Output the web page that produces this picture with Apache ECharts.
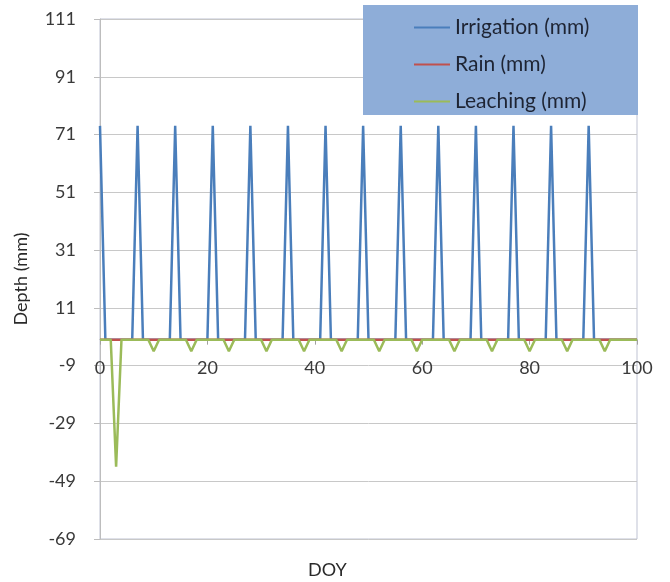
<!DOCTYPE html>
<html>
<head>
<meta charset="utf-8">
<script src="https://cdn.jsdelivr.net/npm/echarts@6/dist/echarts.min.js"></script>
<style>
html,body{margin:0;padding:0;background:#fff;}
#chart{width:670px;height:582px;}
</style>
</head>
<body>
<div id="chart"></div>
<script>
// Daily values, DOY 0..100 (one row = one week)
var irrigation = [
  74,0,0,0,0,0,0,
  74,0,0,0,0,0,0,
  74,0,0,0,0,0,0,
  74,0,0,0,0,0,0,
  74,0,0,0,0,0,0,
  74,0,0,0,0,0,0,
  74,0,0,0,0,0,0,
  74,0,0,0,0,0,0,
  74,0,0,0,0,0,0,
  74,0,0,0,0,0,0,
  74,0,0,0,0,0,0,
  74,0,0,0,0,0,0,
  74,0,0,0,0,0,0,
  74,0,0,0,0,0,0,
  0,0,0
];
var rain = [
  0,0,0,0,0,0,0,
  0,0,0,0,0,0,0,
  0,0,0,0,0,0,0,
  0,0,0,0,0,0,0,
  0,0,0,0,0,0,0,
  0,0,0,0,0,0,0,
  0,0,0,0,0,0,0,
  0,0,0,0,0,0,0,
  0,0,0,0,0,0,0,
  0,0,0,0,0,0,0,
  0,0,0,0,0,0,0,
  0,0,0,0,0,0,0,
  0,0,0,0,0,0,0,
  0,0,0,0,0,0,0,
  0,0,0
];
var leaching = [
  0,0,0,-44,0,0,0,
  0,0,0,-4,0,0,0,
  0,0,0,-4,0,0,0,
  0,0,0,-4,0,0,0,
  0,0,0,-4,0,0,0,
  0,0,0,-4,0,0,0,
  0,0,0,-4,0,0,0,
  0,0,0,-4,0,0,0,
  0,0,0,-4,0,0,0,
  0,0,0,-4,0,0,0,
  0,0,0,-4,0,0,0,
  0,0,0,-4,0,0,0,
  0,0,0,-4,0,0,0,
  0,0,0,-4,0,0,0,
  0,0,0
];
var seriesNames = ['Irrigation (mm)', 'Rain (mm)', 'Leaching (mm)'];
var seriesColors = ['#4A7EBB', '#C0504D', '#9BBB59'];
var yMin = -69, yMax = 111, yStep = 20;
var xMin = 0, xMax = 100, xStep = 20;

function pairs(arr) {
  var out = [];
  for (var i = 0; i < arr.length; i++) out.push([i, arr[i]]);
  return out;
}

var FONT = 'Lato';
var GRID_TOP = 19, GRID_BOTTOM = 43, H = 582;
var plotH = H - GRID_TOP - GRID_BOTTOM;
// shift the x axis from the bottom edge up to the zero line
var zeroOffset = -plotH * (0 - yMin) / (yMax - yMin);

var chart = echarts.init(document.getElementById('chart'), null, {renderer: 'canvas'});
var allData = [irrigation, rain, leaching];
var series = seriesNames.map(function (n, k) {
  return {
    name: n,
    type: 'line',
    data: pairs(allData[k]),
    showSymbol: false,
    symbol: 'none',
    lineStyle: {color: seriesColors[k], width: 2.5},
    itemStyle: {color: seriesColors[k]},
    animation: false,
    z: 2 + k
  };
});

chart.setOption({
  animation: false,
  backgroundColor: '#fff',
  grid: {
    left: 100, right: 33, top: GRID_TOP, bottom: GRID_BOTTOM,
    show: true, borderColor: '#BFC3D3', borderWidth: 1, backgroundColor: 'transparent'
  },
  xAxis: {
    type: 'value', min: xMin, max: xMax, interval: xStep,
    position: 'bottom', offset: zeroOffset,
    axisLine: {onZero: false, lineStyle: {color: '#A0A0A0', width: 1}},
    axisTick: {show: true, length: 5, lineStyle: {color: '#A0A0A0'}},
    axisLabel: {margin: 20, fontFamily: FONT, fontSize: 18, color: '#3A3A3A'},
    splitLine: {show: false}
  },
  yAxis: {
    type: 'value', min: yMin, max: yMax, interval: yStep,
    name: 'Depth (mm)', nameLocation: 'middle', nameGap: 70,
    nameTextStyle: {fontFamily: FONT, fontSize: 18, color: '#2A2A2A'},
    axisLine: {show: true, lineStyle: {color: '#BDBDBD', width: 1}},
    axisTick: {show: true, length: 6, lineStyle: {color: '#BDBDBD'}},
    axisLabel: {margin: 24, fontFamily: FONT, fontSize: 18, color: '#3A3A3A'},
    splitLine: {show: true, lineStyle: {color: '#C8C8C8', width: 1}}
  },
  legend: {
    orient: 'vertical', left: 409, top: 11,
    itemWidth: 36, itemHeight: 2, itemGap: 14,
    icon: 'rect',
    data: seriesNames,
    textStyle: {fontFamily: FONT, fontSize: 21, color: '#1E2433', lineHeight: 23},
    z: 10
  },
  graphic: [
    {type: 'rect', z: 8, shape: {x: 363, y: 5, width: 275, height: 110},
     style: {fill: '#8EADD8', stroke: null}},
    {type: 'text', z: 8, left: 308, top: 561,
     style: {text: 'DOY', fontFamily: FONT, fontSize: 18, fill: '#2A2A2A'}}
  ],
  series: series
});
</script>
</body>
</html>
